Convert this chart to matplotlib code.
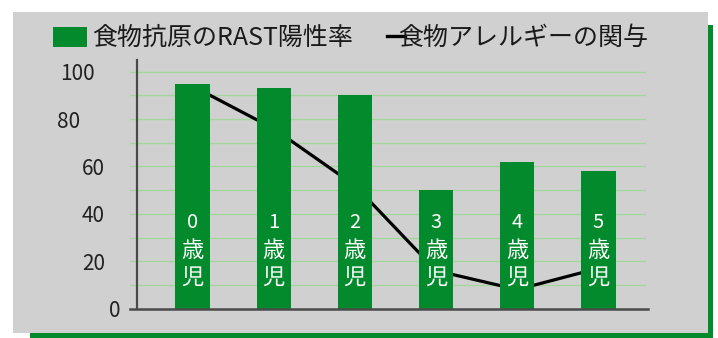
import matplotlib
matplotlib.use("Agg")
import matplotlib.pyplot as plt
from matplotlib.patches import Rectangle
from matplotlib.lines import Line2D

plt.rcParams['font.family'] = ['Noto Sans CJK JP', 'DejaVu Sans']

# ---- data ----
categories = ['0歳児', '1歳児', '2歳児', '3歳児', '4歳児', '5歳児']
rast_positive = [95, 93, 90, 50, 62, 58]
allergy_involvement = [94, 76, 52, 16, 8, 17]
y_ticks = [0, 20, 40, 60, 80, 100]
legend_bar = '食物抗原のRAST陽性率'
legend_line = '食物アレルギーの関与'

# ---- style ----
W, H = 718, 338
GREEN = '#038a2c'
PANEL = '#d0d0d0'
GRID = '#a3d69c'
AXIS = '#4a4a4a'

fig = plt.figure(figsize=(W / 100, H / 100), dpi=100)
fig.patch.set_facecolor('white')

def fx(px):
    return px / W

def fy(py):
    return 1 - py / H

# shadow frame and gray panel
fig.patches.append(Rectangle((fx(30), fy(338)), fx(713) - fx(30), fy(25) - fy(338),
                             transform=fig.transFigure, facecolor=GREEN,
                             edgecolor='none', zorder=0))
fig.patches.append(Rectangle((fx(13), fy(333)), fx(708) - fx(13), fy(12) - fy(333),
                             transform=fig.transFigure, facecolor=PANEL,
                             edgecolor='none', zorder=1))

ax_left, ax_right, ax_bottom, ax_top = 137, 648, 308.5, 60
ax = fig.add_axes([fx(ax_left), fy(ax_bottom), fx(ax_right) - fx(ax_left),
                   fy(ax_top) - fy(ax_bottom)])
ax.set_facecolor('none')
ax.set_zorder(2)

x = list(range(len(categories)))
ax.set_xlim(-0.683, 5.61)
ax.set_ylim(0, 105)

# grid lines every 10
for v in range(10, 101, 10):
    ax.axhline(v, xmin=-0.014, xmax=0.994, color=GRID, lw=1.0, zorder=1, clip_on=False)

# line behind bars
ax.plot(x, allergy_involvement, color='black', lw=2.3, zorder=2, solid_capstyle='butt')

# bars
ax.bar(x, rast_positive, width=0.42, color=GREEN, zorder=3)

# category labels stacked vertically inside bars
label_y = [36.5, 24.4, 13.2]
for xi, cat in zip(x, categories):
    chars = [cat[0], cat[1], cat[2]]
    for ch, yy in zip(chars, label_y):
        fs = 14.5 if ch.isdigit() else 16
        ax.text(xi, yy, ch, color='white', ha='center', va='center',
                fontsize=fs, zorder=4)

# spines
for s in ['top', 'right']:
    ax.spines[s].set_visible(False)
ax.spines['left'].set_color(AXIS)
ax.spines['left'].set_linewidth(1.6)
ax.spines['bottom'].set_visible(False)
ax.plot([-0.77, 5.61], [0, 0], color=AXIS, lw=1.8, clip_on=False, zorder=5)

ax.set_xticks([])
ax.set_yticks(y_ticks)
ax.set_yticklabels([str(v) for v in y_ticks], fontsize=15, color='#222222')
ax.tick_params(axis='y', length=0, pad=0)
# staggered label right edges (pixels)
label_right = {0: 120, 20: 105, 40: 105, 60: 105, 80: 80, 100: 95}
for tick, lab in zip(y_ticks, ax.get_yticklabels()):
    lab.set_ha('right')
    lab.set_x((label_right[tick] - ax_left) / (ax_right - ax_left))

# legend
fig.patches.append(Rectangle((fx(53), fy(47)), fx(87) - fx(53), fy(27) - fy(47),
                             transform=fig.transFigure, facecolor=GREEN,
                             edgecolor='none', zorder=3))
fig.text(fx(92), fy(37.5), legend_bar, fontsize=18, color='#1a1a1a',
         ha='left', va='center', zorder=4)
fig.lines.append(Line2D([fx(387), fx(405)], [fy(36), fy(36)], transform=fig.transFigure,
                        color='black', lw=2.4, zorder=4))
fig.text(fx(398), fy(37.5), legend_line, fontsize=18, color='#1a1a1a',
         ha='left', va='center', zorder=4)

fig.savefig('out.png', dpi=100, facecolor='white')
